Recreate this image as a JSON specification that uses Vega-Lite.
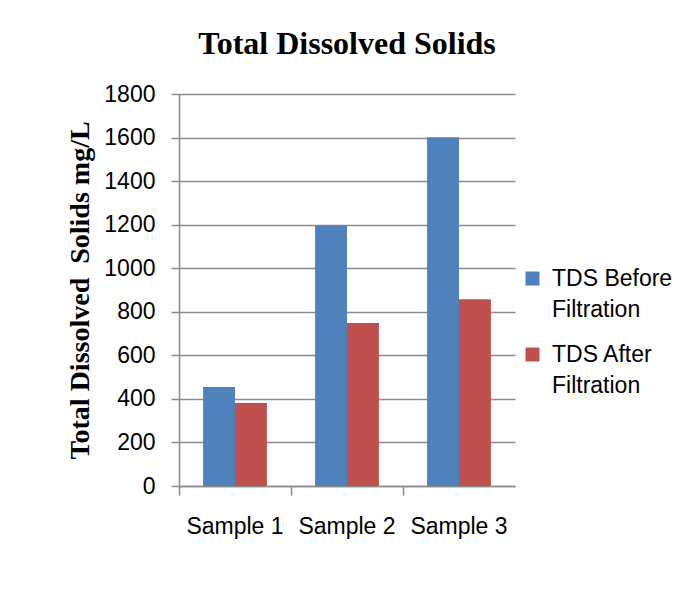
{
  "$schema": "https://vega.github.io/schema/vega-lite/v6.json",
  "autosize": {"type": "none"},
  "width": 336,
  "height": 392,
  "padding": {"left": 179, "top": 94, "right": 166, "bottom": 115},
  "background": "white",
  "title": {
    "text": "Total Dissolved Solids",
    "font": "Liberation Serif",
    "fontSize": 32,
    "fontWeight": "bold",
    "color": "black",
    "anchor": "middle",
    "offset": 22
  },
  "data": {
    "values": [
      {"sample": "Sample 1", "series": "TDS Before Filtration", "tds": 455},
      {"sample": "Sample 1", "series": "TDS After Filtration", "tds": 381},
      {"sample": "Sample 2", "series": "TDS Before Filtration", "tds": 1196},
      {"sample": "Sample 2", "series": "TDS After Filtration", "tds": 748},
      {"sample": "Sample 3", "series": "TDS Before Filtration", "tds": 1601},
      {"sample": "Sample 3", "series": "TDS After Filtration", "tds": 858}
    ]
  },
  "config": {
    "view": {"stroke": null},
    "axis": {
      "domainColor": "#8a8a8a",
      "domainWidth": 1.5,
      "tickColor": "#8a8a8a",
      "tickWidth": 1.5,
      "gridColor": "#8a8a8a",
      "gridWidth": 1.3,
      "labelColor": "black",
      "labelFont": "Liberation Sans",
      "labelFontSize": 23
    }
  },
  "mark": {"type": "bar"},
  "encoding": {
    "x": {
      "field": "sample",
      "type": "nominal",
      "scale": {"paddingInner": 0.43, "paddingOuter": 0.215},
      "axis": {
        "title": null,
        "labelAngle": 0,
        "bandPosition": -0.377,
        "tickSize": 9,
        "labelPadding": 20,
        "grid": false
      }
    },
    "xOffset": {
      "field": "series",
      "type": "nominal",
      "sort": ["TDS Before Filtration", "TDS After Filtration"]
    },
    "y": {
      "field": "tds",
      "type": "quantitative",
      "scale": {"domain": [0, 1800], "nice": false},
      "axis": {
        "values": [0, 200, 400, 600, 800, 1000, 1200, 1400, 1600, 1800],
        "format": "d",
        "title": "Total Dissolved\u00a0 Solids mg/L",
        "titleFont": "Liberation Serif",
        "titleFontSize": 28,
        "titleFontWeight": "bold",
        "titleColor": "black",
        "titlePadding": 9,
        "tickSize": 8,
        "labelPadding": 16,
        "grid": true
      }
    },
    "color": {
      "field": "series",
      "type": "nominal",
      "scale": {
        "domain": ["TDS Before Filtration", "TDS After Filtration"],
        "range": ["#4F81BD", "#C0504D"]
      },
      "legend": {
        "title": null,
        "orient": "none",
        "legendX": 342,
        "legendY": 173,
        "padding": 0,
        "symbolType": "square",
        "symbolSize": 196,
        "symbolStrokeWidth": 0,
        "symbolOpacity": 1,
        "labelFont": "Liberation Sans",
        "labelFontSize": 23,
        "labelColor": "black",
        "labelLimit": 0,
        "labelOffset": 8,
        "labelExpr": "datum.label == 'TDS Before Filtration' ? ['TDS Before', 'Filtration'] : ['TDS After', 'Filtration']",
        "rowPadding": 21,
        "encode": {
          "labels": {"update": {"lineHeight": {"value": 31}}}
        }
      }
    }
  }
}
